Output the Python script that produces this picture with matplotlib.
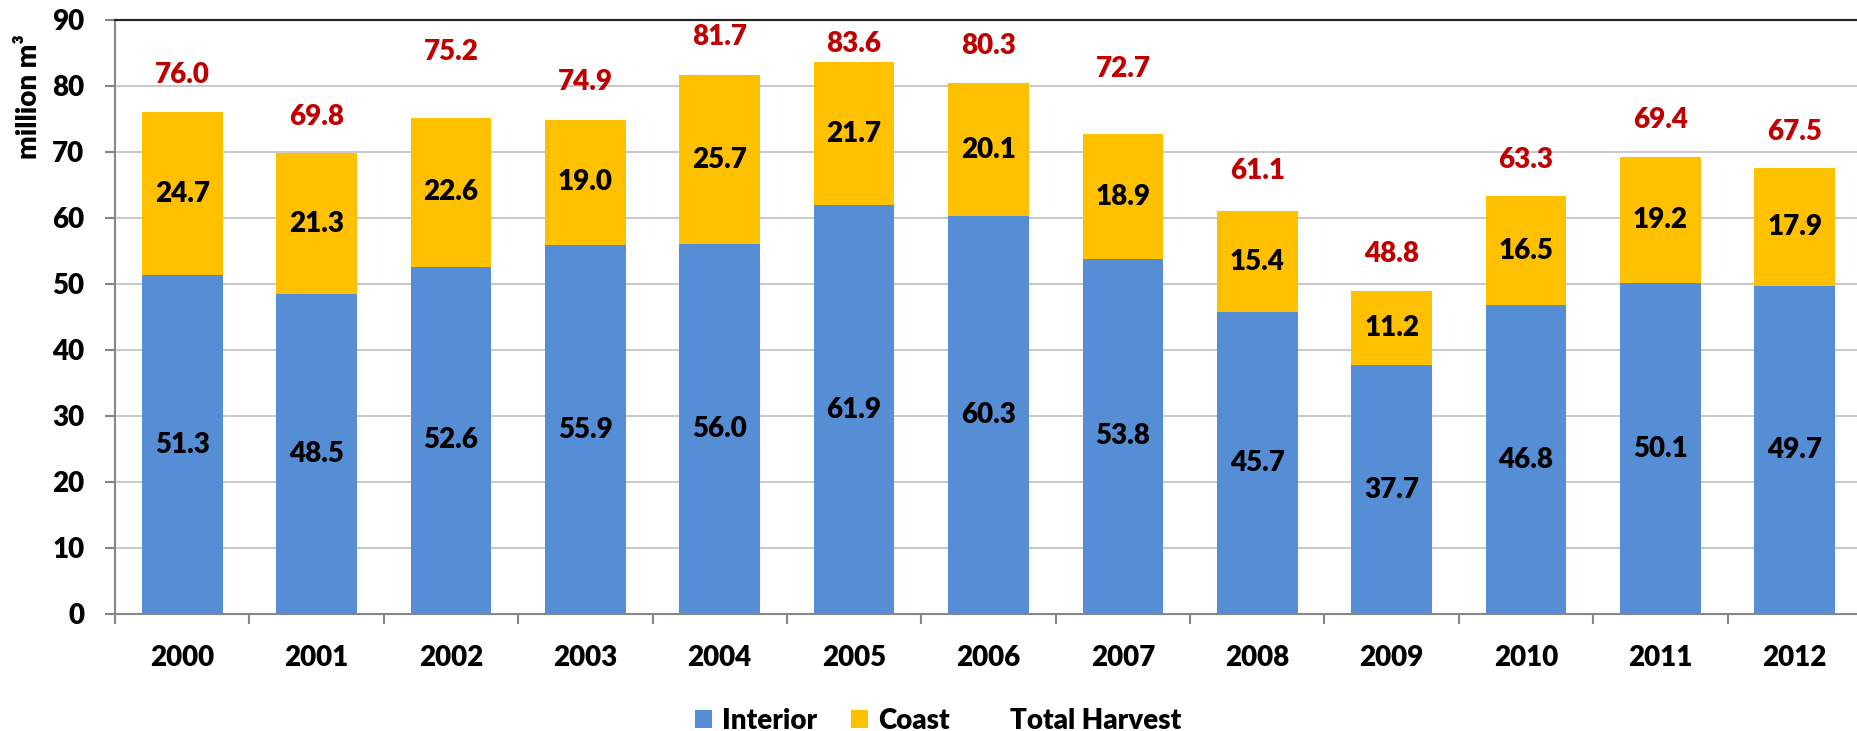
"""Timber harvest by region, 2000-2012 (stacked bars with totals)."""

import matplotlib.pyplot as plt
from matplotlib.lines import Line2D
from matplotlib.patches import Patch
from matplotlib.ticker import MultipleLocator

plt.rcParams["font.family"] = ["Lato", "DejaVu Sans"]
plt.rcParams["font.weight"] = "heavy"

years = ["2000", "2001", "2002", "2003", "2004", "2005", "2006",
         "2007", "2008", "2009", "2010", "2011", "2012"]
interior = [51.3, 48.5, 52.6, 55.9, 56.0, 61.9, 60.3, 53.8, 45.7, 37.7, 46.8, 50.1, 49.7]
coast = [24.7, 21.3, 22.6, 19.0, 25.7, 21.7, 20.1, 18.9, 15.4, 11.2, 16.5, 19.2, 17.9]
total = [76.0, 69.8, 75.2, 74.9, 81.7, 83.6, 80.3, 72.7, 61.1, 48.8, 63.3, 69.4, 67.5]

# how far (in axis units) each red total label sits above its bar
total_label_lift = [5.6, 5.5, 9.9, 5.7, 5.7, 2.8, 5.7, 9.9, 6.0, 5.8, 5.5, 5.5, 5.5]

BLUE = "#558ED5"
GOLD = "#FFC000"
RED = "#C00000"
GRID = "#BFBFBF"
AXIS = "#868686"
FS = 20
WT = "heavy"

W, H = 1857, 731
fig = plt.figure(figsize=(W / 100, H / 100), dpi=100)
ax = fig.add_axes([115 / W, 1 - 614 / H, (1862 - 115) / W, (614 - 20) / H])

x = list(range(len(years)))
ax.bar(x, interior, width=0.6, color=BLUE, zorder=3)
ax.bar(x, coast, width=0.6, bottom=interior, color=GOLD, zorder=3)

for i in x:
    ax.text(i, interior[i] / 2, f"{interior[i]:.1f}", ha="center", va="center",
            fontsize=FS, fontweight=WT, color="black", zorder=4)
    ax.text(i, interior[i] + coast[i] / 2, f"{coast[i]:.1f}", ha="center", va="center",
            fontsize=FS, fontweight=WT, color="black", zorder=4)
    ax.text(i, total[i] + total_label_lift[i], f"{total[i]:.1f}", ha="center", va="center",
            fontsize=FS, fontweight=WT, color=RED, zorder=4)

ax.set_xlim(-0.5, len(years) - 0.5)
ax.set_ylim(0, 90)
ax.yaxis.set_major_locator(MultipleLocator(10))
ax.grid(axis="y", color=GRID, linewidth=1.2, zorder=0)
ax.set_axisbelow(True)

ax.set_xticks(x)
ax.set_xticklabels(years)
ax.set_xticks([i - 0.5 for i in range(len(years) + 1)], minor=True)
ax.tick_params(axis="x", which="major", length=0, pad=22, labelsize=FS)
ax.tick_params(axis="x", which="minor", length=7, width=1.5, color=AXIS, direction="out")
ax.tick_params(axis="y", length=7, width=1.5, color=AXIS, pad=15, labelsize=FS)
for lab in ax.get_xticklabels() + ax.get_yticklabels():
    lab.set_fontweight(WT)

ax.spines["left"].set_color(AXIS)
ax.spines["left"].set_linewidth(1.5)
ax.spines["bottom"].set_color(AXIS)
ax.spines["bottom"].set_linewidth(1.5)
ax.spines["top"].set_color("#262626")
ax.spines["top"].set_linewidth(1.6)
ax.spines["right"].set_visible(False)

fig.text(29 / W, 1 - 97 / H, "million m³", rotation=90, ha="center", va="center",
         fontsize=FS, fontweight=WT)

handles = [
    Patch(facecolor=BLUE, edgecolor="none"),
    Patch(facecolor=GOLD, edgecolor="none"),
    Line2D([], [], color="none"),
]
fig.legend(handles, ["Interior", "Coast", "Total Harvest"], loc="center",
           bbox_to_anchor=(938 / W, 1 - 721 / H), ncol=3, frameon=False,
           prop={"size": FS, "weight": WT}, handlelength=0.62, handleheight=0.62,
           handletextpad=0.36, columnspacing=1.2)

fig.savefig("out.png", dpi=100)
